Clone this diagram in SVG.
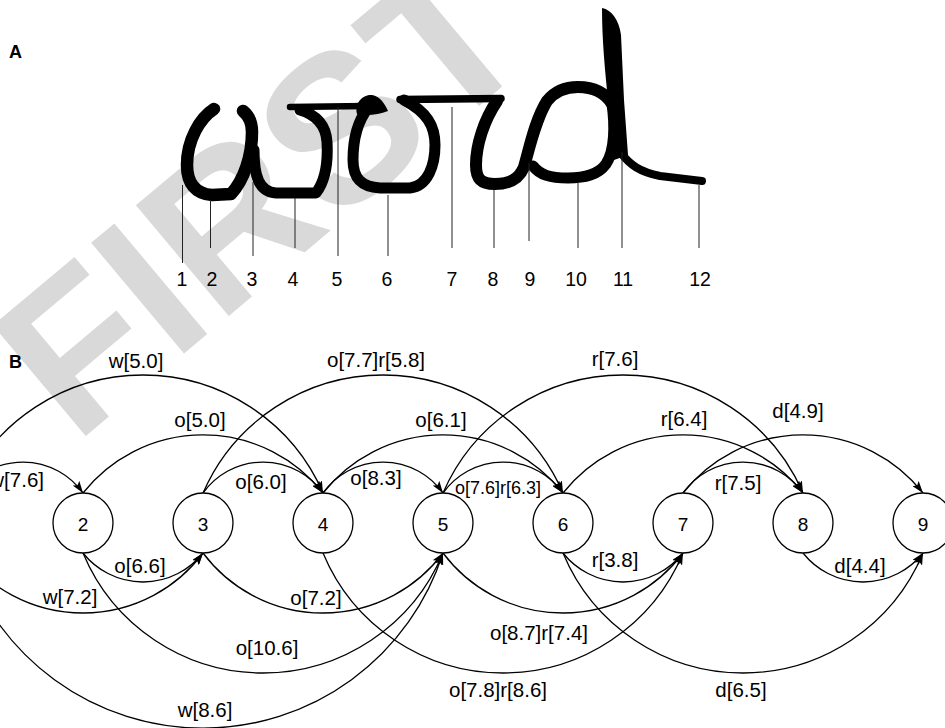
<svg xmlns="http://www.w3.org/2000/svg" width="945" height="728" viewBox="0 0 945 728">
<defs>
<style>
.wm{font-family:"Liberation Sans",Arial,sans-serif;font-weight:bold;fill:#d9d9d9}
.ink{fill:none;stroke:#000;stroke-linejoin:round;stroke-linecap:round}
.fill{fill:#000}
.tick{stroke:#222;stroke-width:1}
.num{font-family:"Liberation Sans",Arial,sans-serif;font-size:19.5px;fill:#000;text-anchor:middle}
.panel{font-family:"Liberation Sans",Arial,sans-serif;font-size:18px;font-weight:bold;fill:#000}
.node circle{fill:#fff;stroke:#000;stroke-width:1.3}
.node text{font-family:"Liberation Sans",Arial,sans-serif;font-size:19px;fill:#000;text-anchor:middle}
.edge{fill:none;stroke:#000;stroke-width:1.3;marker-end:url(#arr)}
.lbl{font-family:"Liberation Sans",Arial,sans-serif;font-size:20.5px;fill:#000;text-anchor:middle}
.sm{font-size:18px}
</style>
<marker id="arr" viewBox="0 0 12 8" refX="12" refY="4" markerWidth="12" markerHeight="8" markerUnits="userSpaceOnUse" orient="auto">
<path d="M0,0 L12,4 L0,8 L2.5,4 Z" fill="#000"/>
</marker>
</defs>
<rect width="945" height="728" fill="#fff"/>
<text class="wm" font-size="210" transform="translate(75,445) rotate(-40)">FIRST</text>

<text class="panel" x="9" y="58">A</text>
<g id="handwriting">
<path class="ink" stroke-width="12.5" d="M214,109 C200,118 187,140 187,165 C187,184 196,194 212,195 L231,194 C244,180 252,156 252,132 C252,122 248,115 243,111"/>
<path class="ink" stroke-width="11" d="M254,150 C254,176 259,192 276,193 L316,193 C326,180 328,160 327,142 C326,126 317,115 300,110"/>
<path class="ink" stroke-width="6.5" stroke-linecap="butt" d="M290,107 L366,106"/>
<path class="fill" d="M357,114 C354,101 365,94 372,95 C380,96 385,104 388,111 C378,115 366,116 357,114 Z"/>
<path class="ink" stroke-width="11" d="M368,108 C357,122 353,140 353,160 C353,179 362,187 380,188 L410,188 C428,186 435,165 435,145 C435,126 427,112 404,100"/>
<path class="ink" stroke-width="7.5" stroke-linecap="butt" d="M400,99.5 L501,98.5"/>
<path class="ink" stroke-width="4" d="M500,97 L498,104"/>
<path class="ink" stroke-width="12" d="M497,101 C484,120 476,145 476,165 C476,179 481,184 495,184 C510,184 519,179 524,167 C529,150 535,120 547,101 C555,91 565,87 578,87 C595,87 606,94 612,104"/>
<path class="ink" stroke-width="11" d="M612,104 C615,125 615,150 606,164 C598,175 585,178 568,178 C550,178 540,175 533,166"/>
<path class="fill" d="M602,8 C612,10 619,20 621,35 L624,100 L628,155 L614,160 L608,100 C605,70 602,40 602,8 Z"/>
<path class="ink" stroke-width="8" stroke-linecap="butt" d="M621,153 C630,165 640,172 660,176 L702,181"/>
</g>
<g id="ticks">
<line class="tick" x1="182.5" y1="185" x2="182.5" y2="263"/>
<line class="tick" x1="210.5" y1="200" x2="210.5" y2="248"/>
<line class="tick" x1="253" y1="182" x2="253" y2="256"/>
<line class="tick" x1="295" y1="198" x2="295" y2="248"/>
<line class="tick" x1="338" y1="107" x2="338" y2="256"/>
<line class="tick" x1="388" y1="195" x2="388" y2="256"/>
<line class="tick" x1="452" y1="107" x2="452" y2="248"/>
<line class="tick" x1="494" y1="190" x2="494" y2="248"/>
<line class="tick" x1="529" y1="163" x2="529" y2="241"/>
<line class="tick" x1="578" y1="183" x2="578" y2="248"/>
<line class="tick" x1="622" y1="152" x2="622" y2="248"/>
<line class="tick" x1="699" y1="185" x2="699" y2="248"/>
</g>
<g id="tick-labels">
<text class="num" x="182" y="286">1</text>
<text class="num" x="212" y="286">2</text>
<text class="num" x="252" y="286">3</text>
<text class="num" x="293" y="286">4</text>
<text class="num" x="337" y="286">5</text>
<text class="num" x="387" y="286">6</text>
<text class="num" x="452" y="286">7</text>
<text class="num" x="493" y="286">8</text>
<text class="num" x="530" y="286">9</text>
<text class="num" x="576" y="286">10</text>
<text class="num" x="623" y="286">11</text>
<text class="num" x="700" y="286">12</text>
</g>

<text class="panel" x="9" y="368">B</text>
<g id="connectors">
<path class="edge" d="M-37,493 A73.6,73.6 0 0 1 83,493"/>
<path class="edge" d="M83,493 A153,153 0 0 1 323,493"/>
<path class="edge" d="M-37,493 A196.3,196.3 0 0 1 323,493"/>
<path class="edge" d="M203,493 A73.6,73.6 0 0 1 323,493"/>
<path class="edge" d="M203,493 A196.3,196.3 0 0 1 563,493"/>
<path class="edge" d="M323,493 A153,153 0 0 1 563,493"/>
<path class="edge" d="M323,493 A73.6,73.6 0 0 1 443,493"/>
<path class="edge" d="M443,493 A73.6,73.6 0 0 1 563,493"/>
<path class="edge" d="M443,493 A196.3,196.3 0 0 1 803,493"/>
<path class="edge" d="M563,493 A153,153 0 0 1 803,493"/>
<path class="edge" d="M683,493 A73.6,73.6 0 0 1 803,493"/>
<path class="edge" d="M683,493 A153,153 0 0 1 923,493"/>
<path class="edge" d="M83,553 A76.6,76.6 0 0 0 203,553"/>
<path class="edge" d="M-37,553 A150,150 0 0 0 203,553"/>
<path class="edge" d="M83,553 A195,195 0 0 0 443,553"/>
<path class="edge" d="M-37,553 A252,252 0 0 0 443,553"/>
<path class="edge" d="M203,553 A150,150 0 0 0 443,553"/>
<path class="edge" d="M323,553 A195,195 0 0 0 683,553"/>
<path class="edge" d="M443,553 A150,150 0 0 0 683,553"/>
<path class="edge" d="M563,553 A76.6,76.6 0 0 0 683,553"/>
<path class="edge" d="M563,553 A195,195 0 0 0 923,553"/>
<path class="edge" d="M803,553 A76.6,76.6 0 0 0 923,553"/>
</g>
<g id="edge-labels">
<text class="lbl" x="44" y="487" style="text-anchor:end">w[7.6]</text>
<text class="lbl" x="136" y="368">w[5.0]</text>
<text class="lbl" x="200" y="427">o[5.0]</text>
<text class="lbl" x="261" y="489">o[6.0]</text>
<text class="lbl" x="376" y="367">o[7.7]r[5.8]</text>
<text class="lbl" x="441" y="427">o[6.1]</text>
<text class="lbl" x="376" y="485">o[8.3]</text>
<text class="lbl sm" x="498" y="494">o[7.6]r[6.3]</text>
<text class="lbl" x="615" y="366">r[7.6]</text>
<text class="lbl" x="684" y="426">r[6.4]</text>
<text class="lbl" x="798" y="418">d[4.9]</text>
<text class="lbl" x="738" y="490">r[7.5]</text>
<text class="lbl" x="140" y="573">o[6.6]</text>
<text class="lbl" x="70" y="604">w[7.2]</text>
<text class="lbl" x="316" y="605">o[7.2]</text>
<text class="lbl" x="267" y="655">o[10.6]</text>
<text class="lbl" x="205" y="717">w[8.6]</text>
<text class="lbl" x="615" y="567">r[3.8]</text>
<text class="lbl" x="539" y="640">o[8.7]r[7.4]</text>
<text class="lbl" x="498" y="697">o[7.8]r[8.6]</text>
<text class="lbl" x="860" y="573">d[4.4]</text>
<text class="lbl" x="741" y="697">d[6.5]</text>
</g>
<g id="node2" class="node"><circle cx="83" cy="523" r="30"/><text x="83" y="531">2</text></g>
<g id="node3" class="node"><circle cx="203" cy="523" r="30"/><text x="203" y="531">3</text></g>
<g id="node4" class="node"><circle cx="323" cy="523" r="30"/><text x="323" y="531">4</text></g>
<g id="node5" class="node"><circle cx="443" cy="523" r="30"/><text x="443" y="531">5</text></g>
<g id="node6" class="node"><circle cx="563" cy="523" r="30"/><text x="563" y="531">6</text></g>
<g id="node7" class="node"><circle cx="683" cy="523" r="30"/><text x="683" y="531">7</text></g>
<g id="node8" class="node"><circle cx="803" cy="523" r="30"/><text x="803" y="531">8</text></g>
<g id="node9" class="node"><circle cx="923" cy="523" r="30"/><text x="923" y="531">9</text></g>
</svg>
